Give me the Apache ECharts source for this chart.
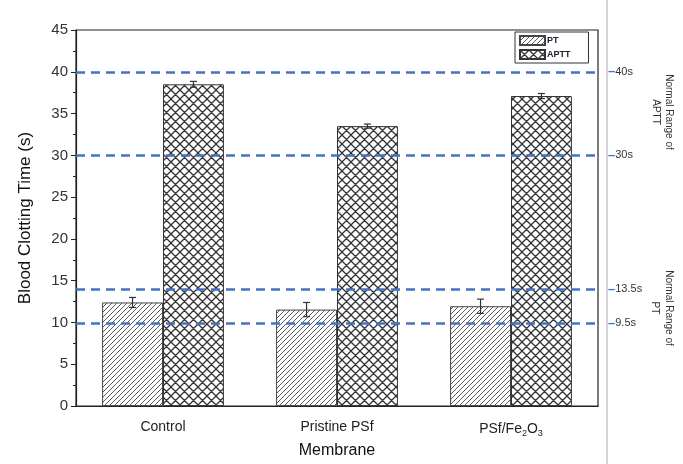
<!DOCTYPE html>
<html>
<head>
<meta charset="utf-8">
<script src="https://cdn.jsdelivr.net/npm/echarts@6/dist/echarts.min.js"></script>
<style>
html,body{margin:0;padding:0;background:#fff;overflow:hidden;}
#chart{width:683px;height:464px;}
</style>
</head>
<body>
<div id="chart"></div>
<script>
// ---- data ----
var categories = ['Control', 'Pristine PSf', 'PSf/Fe{sub|2}O{sub|3}'];
var ptValues = [12.4, 11.55, 11.95];
var ptErrors = [0.6, 0.85, 0.85];
var apttValues = [38.5, 33.5, 37.1];
var apttErrors = [0.35, 0.25, 0.3];
var refLineValues = [40, 30, 14, 9.9];
var refLineLabels = ['40s', '30s', '13.5s', '9.5s'];
var yTicks = [0, 45, 5];

function makePattern(type) {
  var c = document.createElement('canvas');
  var s = type === 'diag' ? 5 : 9;
  c.width = s; c.height = s;
  var g = c.getContext('2d');
  g.fillStyle = '#fff';
  g.fillRect(0, 0, s, s);
  g.strokeStyle = type === 'diag' ? '#5a5a5a' : '#333';
  g.lineWidth = type === 'diag' ? 1 : 1.3;
  g.beginPath();
  g.moveTo(-1, s + 1); g.lineTo(s + 1, -1);
  g.moveTo(-1, 1); g.lineTo(1, -1);
  g.moveTo(s - 1, s + 1); g.lineTo(s + 1, s - 1);
  if (type === 'cross') {
    g.moveTo(-1, -1); g.lineTo(s + 1, s + 1);
    g.moveTo(s - 1, -1); g.lineTo(s + 1, 1);
    g.moveTo(-1, s - 1); g.lineTo(1, s + 1);
  }
  g.stroke();
  return c;
}

var BAR_GAP_CAT = 0.3;

function errRender(sign) {
  return function (params, api) {
    var i = api.value(0), v = api.value(1), e = api.value(2);
    var c = api.coord([i, v]);
    var band = api.size([1, 0])[0];
    var bw = band * (1 - BAR_GAP_CAT) / 2;
    var x = c[0] + sign * bw / 2;
    var top = api.coord([i, v + e])[1];
    var bot = api.coord([i, v - e])[1];
    var cap = 3.5;
    var st = { stroke: '#333', lineWidth: 1.2 };
    return {
      type: 'group',
      children: [
        { type: 'line', shape: { x1: x, y1: top, x2: x, y2: bot }, style: st },
        { type: 'line', shape: { x1: x - cap, y1: top, x2: x + cap, y2: top }, style: st },
        { type: 'line', shape: { x1: x - cap, y1: bot, x2: x + cap, y2: bot }, style: st }
      ]
    };
  };
}

var chart = echarts.init(document.getElementById('chart'), null, { width: 683, height: 464 });
var FONT = 'Liberation Sans';

var option = {
  animation: false,
  textStyle: { fontFamily: FONT },
  grid: { left: 76, top: 30, width: 522, height: 385, show: true, borderColor: '#222', borderWidth: 1.2, backgroundColor: 'transparent' },
  legend: {
    data: ['PT', 'APTT'],
    orient: 'vertical',
    left: 515, top: 32,
    itemWidth: 25, itemHeight: 9, itemGap: 3,
    borderColor: '#333', borderWidth: 1,
    padding: [3, 18, 3, 4],
    textStyle: { fontSize: 9, color: '#223', fontWeight: 'bold', padding: [0, 0, 0, -3] },
    icon: 'rect'
  },
  xAxis: [{
    type: 'category',
    data: categories,
    axisLine: { lineStyle: { color: '#222', width: 1.2 } },
    axisTick: { alignWithLabel: true, length: 5, lineStyle: { color: '#222' } },
    axisLabel: {
      interval: 0,
      fontSize: 14, color: '#222', margin: 14,
      rich: {
        sub: { fontSize: 9, padding: [9, 0, 0, 0], color: '#222' }
      }
    },
    name: 'Membrane',
    nameLocation: 'middle',
    nameGap: 33,
    nameTextStyle: { fontSize: 16, color: '#111' }
  }, {
    type: 'category',
    data: categories,
    position: 'bottom',
    axisLine: { show: false },
    axisTick: { length: 3, lineStyle: { color: '#222' } },
    axisLabel: { show: false }
  }],
  yAxis: {
    type: 'value',
    min: yTicks[0], max: yTicks[1], interval: yTicks[2],
    axisLine: { show: true, lineStyle: { color: '#222', width: 1.2 } },
    axisTick: { show: true, length: 5, lineStyle: { color: '#222' } },
    minorTick: { show: true, splitNumber: 2, length: 3, lineStyle: { color: '#222' } },
    splitLine: { show: false },
    axisLabel: { fontSize: 15, color: '#333', margin: 8 },
    name: 'Blood Clotting Time (s)',
    nameLocation: 'middle',
    nameGap: 42,
    nameTextStyle: { fontSize: 17, color: '#111' }
  },
  series: [{
    name: 'PT',
    type: 'bar',
    data: ptValues,
    barGap: '0%',
    barCategoryGap: (BAR_GAP_CAT * 100) + '%',
    itemStyle: { color: { image: makePattern('diag'), repeat: 'repeat' }, borderColor: '#444', borderWidth: 1 },
    markLine: {
      silent: true,
      symbol: 'none',
      lineStyle: { color: '#4472C4', type: [9, 6], width: 2.5 },
      label: {
        position: 'end', distance: 10,
        formatter: function (p) { return '{d|\u2013}' + refLineLabels[p.dataIndex]; },
        fontSize: 11, color: '#333',
        rich: { d: { color: '#4472C4', fontSize: 13, fontWeight: 'bold' } }
      },
      data: refLineValues.map(function (v) { return { yAxis: v }; })
    }
  }, {
    name: 'APTT',
    type: 'bar',
    data: apttValues,
    itemStyle: { color: { image: makePattern('cross'), repeat: 'repeat' }, borderColor: '#333', borderWidth: 1 }
  }, {
    type: 'custom',
    renderItem: errRender(-1),
    data: ptValues.map(function (v, i) { return [i, v, ptErrors[i]]; }),
    encode: { x: 0, y: 1 },
    z: 10
  }, {
    type: 'custom',
    renderItem: errRender(1),
    data: apttValues.map(function (v, i) { return [i, v, apttErrors[i]]; }),
    encode: { x: 0, y: 1 },
    z: 10
  }],
  graphic: [
    { type: 'line', shape: { x1: 607, y1: 0, x2: 607, y2: 464 }, style: { stroke: '#aaa', lineWidth: 1 } },
    { type: 'text', x: 669, y: 112, rotation: -Math.PI / 2, style: { text: 'Normal Range of', fontSize: 10, fill: '#333', align: 'center', verticalAlign: 'middle', fontFamily: FONT } },
    { type: 'text', x: 656, y: 112, rotation: -Math.PI / 2, style: { text: 'APTT', fontSize: 10, fill: '#333', align: 'center', verticalAlign: 'middle', fontFamily: FONT } },
    { type: 'text', x: 669, y: 308, rotation: -Math.PI / 2, style: { text: 'Normal Range of', fontSize: 10, fill: '#333', align: 'center', verticalAlign: 'middle', fontFamily: FONT } },
    { type: 'text', x: 655, y: 308, rotation: -Math.PI / 2, style: { text: 'PT', fontSize: 10, fill: '#333', align: 'center', verticalAlign: 'middle', fontFamily: FONT } }
  ]
};
chart.setOption(option);
</script>
</body>
</html>
